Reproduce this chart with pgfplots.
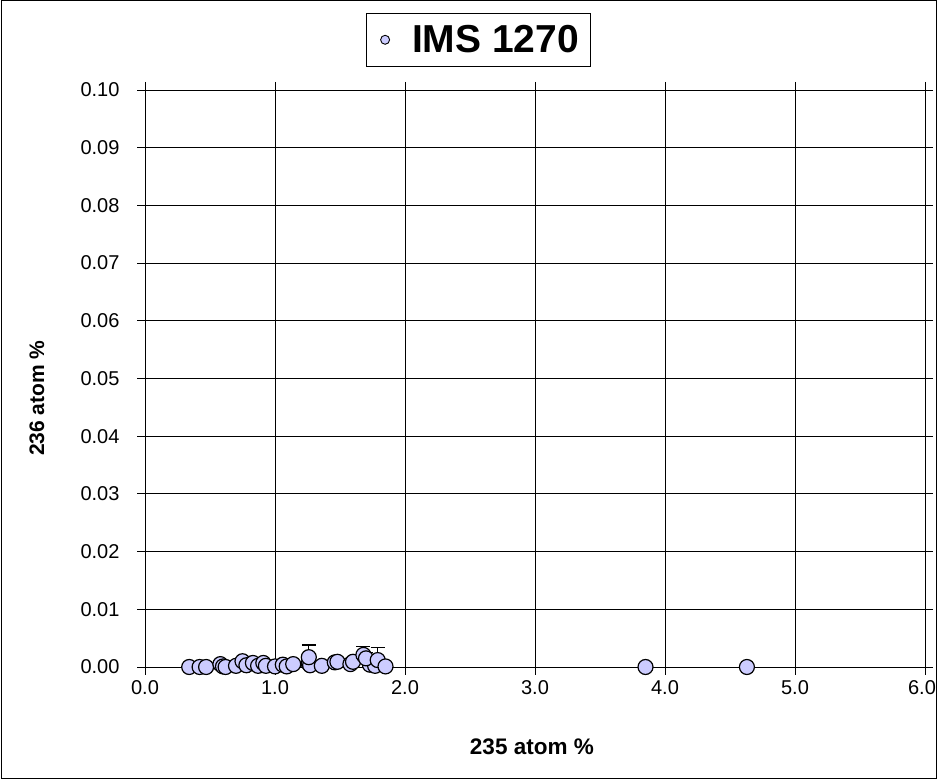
\documentclass[border=0pt]{standalone}
\usepackage{fontspec}
\setmainfont{Liberation Sans}
\usepackage{pgfplots}
\pgfplotsset{compat=1.18}
\definecolor{mfill}{RGB}{204,204,255}
\begin{document}
\begin{tikzpicture}[x=1bp,y=1bp]
\draw[use as bounding box, draw=none] (0,0) rectangle (937,780);
\draw[line width=1bp] (1,1) rectangle (936,779);
\begin{axis}[
  at={(145bp,113bp)}, anchor=south west,
  scale only axis, width=780bp, height=577bp,
  xmin=0, xmax=6, ymin=0, ymax=0.1,
  xtick={0,1,...,6}, ytick={0,0.01,...,0.1},
  xticklabels={0.0,1.0,2.0,3.0,4.0,5.0,{\kern-6bp\makebox[30bp][c]{6.0}}},
  grid=major, major grid style={black, line width=0.9bp},
  axis line style={black, line width=0.9bp},
  tick style={black, line width=0.9bp}, tick align=outside,
  major tick length=8bp,
  tick label style={font=\fontsize{20bp}{24bp}\selectfont},
  /pgf/number format/assume math mode=true,
  xticklabel style={yshift=-2bp},
  yticklabel style={xshift=-14bp, /pgf/number format/.cd, fixed, fixed zerofill, precision=2},
  scaled y ticks=false,
  xlabel={\textbf{235 atom \%}}, ylabel={\textbf{236 atom \%}},
  xlabel style={font=\fontsize{22.5bp}{26bp}\selectfont, at={(axis description cs:0.496,-0.1387)}, anchor=center},
  ylabel style={font=\fontsize{21bp}{25bp}\selectfont, at={(axis description cs:-0.1385,0.466)}, anchor=center},
  legend style={at={(axis description cs:0.4270,1.087)}, anchor=center,
    draw=black, line width=0.9bp, font=\fontsize{39bp}{42bp}\selectfont\bfseries,
    inner xsep=9bp, inner ysep=10bp},
  legend image code/.code={\path[draw=none] (-10bp,0) -- (25bp,0); \draw[fill=mfill, draw=black, line width=0.9bp] (0,0) circle (4.5bp);},
  clip=false,
]
\addplot[only marks, mark=*, mark size=7.5bp,
  mark options={fill=mfill, draw=black, line width=1.2bp},
  error bars/.cd, y dir=plus, y explicit,
  error mark options={rotate=90, mark size=7bp, line width=1.2bp},
  error bar style={line width=1.2bp}]
  table[x=x, y=y, y error=e] {
x y e
0.34 0.0000 0
0.42 0.0000 0
0.47 0.0000 0
0.58 0.0005 0.0002
0.60 0.0001 0
0.62 0.0000 0
0.70 0.0002 0
0.75 0.0010 0.0002
0.78 0.0003 0
0.83 0.0007 0.0002
0.87 0.0002 0
0.91 0.0007 0.0003
0.93 0.0002 0
1.00 0.0001 0
1.06 0.0004 0.0002
1.09 0.0001 0
1.14 0.0005 0.0003
1.26 0.0006 0.0003
1.27 0.0003 0
1.26 0.0017 0.0021
1.36 0.0002 0
1.46 0.0008 0.0003
1.48 0.0009 0.0003
1.58 0.0005 0.0003
1.60 0.0009 0.0003
1.73 0.0004 0.0002
1.77 0.0002 0
1.68 0.0021 0.0015
1.70 0.0015 0.0010
1.79 0.0012 0.0022
1.85 0.0001 0
3.85 0.0000 0
4.63 0.0000 0
};
\addlegendentry{IMS 1270}
\end{axis}
\end{tikzpicture}
\end{document}
